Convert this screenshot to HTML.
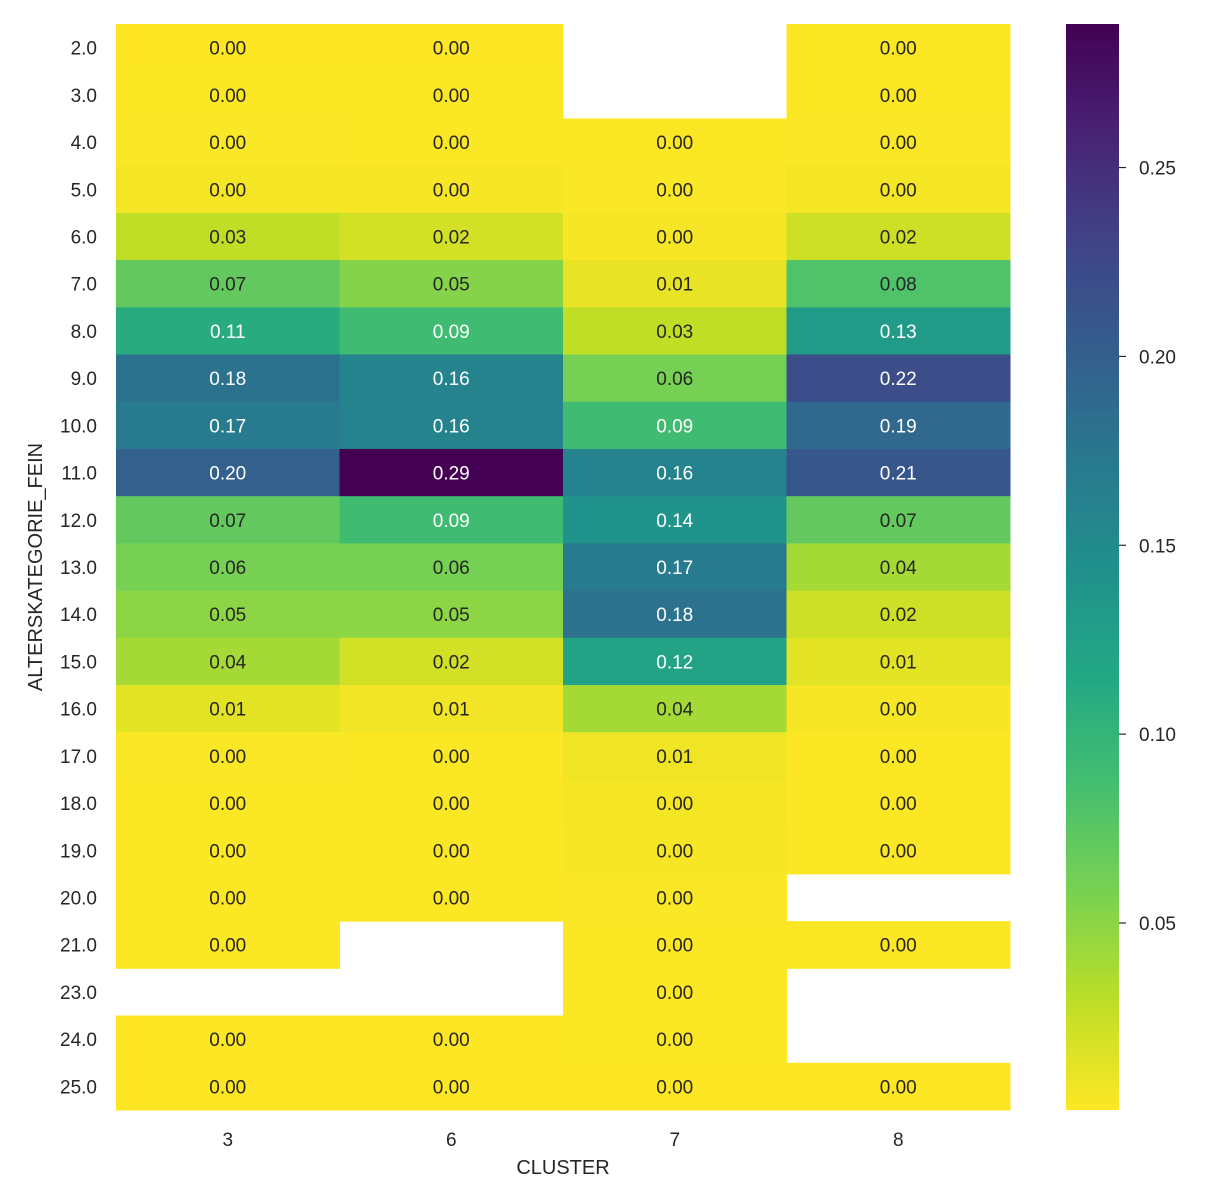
<!DOCTYPE html>
<html><head><meta charset="utf-8"><style>
html,body{margin:0;padding:0;background:#fff;}
svg{display:block;font-family:"Liberation Sans","DejaVu Sans",sans-serif;}
</style></head><body>
<svg id="chart" width="1208" height="1200" viewBox="0 0 1208 1200" xmlns="http://www.w3.org/2000/svg"></svg>
<script>
const categories = ["3","6","7","8"];
const rowLabels = ["2.0","3.0","4.0","5.0","6.0","7.0","8.0","9.0","10.0","11.0","12.0","13.0","14.0","15.0","16.0","17.0","18.0","19.0","20.0","21.0","23.0","24.0","25.0"];
const cluster3 = [0.0005,0.001,0.002,0.004,0.028,0.070,0.110,0.180,0.170,0.200,0.070,0.060,0.050,0.040,0.012,0.002,0.001,0.001,0.001,0.001,null,0.0005,0.0005];
const cluster6 = [0.0005,0.001,0.001,0.003,0.020,0.053,0.090,0.160,0.160,0.288,0.090,0.060,0.050,0.020,0.006,0.001,0.001,0.001,0.001,null,null,0.0005,0.0005];
const cluster7 = [null,null,0.001,0.002,0.003,0.010,0.028,0.060,0.090,0.160,0.140,0.170,0.180,0.120,0.040,0.007,0.004,0.003,0.002,0.001,0.001,0.001,0.0005];
const cluster8 = [0.001,0.001,0.002,0.004,0.022,0.080,0.130,0.220,0.190,0.210,0.070,0.040,0.022,0.012,0.003,0.001,0.001,0.001,null,0.001,null,null,0.0005];
const cbTicks = [0.05,0.10,0.15,0.20,0.25];
const series = [cluster3,cluster6,cluster7,cluster8];
const vmin = 0.0005, vmax = 0.288;

const svg = document.getElementById('chart');
const NS = "http://www.w3.org/2000/svg";
const X0=116, X1=1010, Y0=24, Y1=1110;
const cw=(X1-X0)/categories.length, rh=(Y1-Y0)/rowLabels.length;
const xScale=i=>X0+i*cw, yScale=j=>Y0+j*rh;
const CBX=1066, CBW=53;
const cbY=v=>Y1-(v-vmin)/(vmax-vmin)*(Y1-Y0);

const vir=[[68,1,84],[72,35,116],[64,67,135],[52,94,141],[41,120,142],[32,144,140],[34,167,132],[68,190,112],[121,209,81],[189,222,38],[253,231,37]];
function viridis(t){t=Math.max(0,Math.min(1,t));const p=t*(vir.length-1),i=Math.min(Math.floor(p),vir.length-2),f=p-i;
 return vir[i].map((c,k)=>Math.round(c+(vir[i+1][k]-c)*f));}
function colorFor(v){return viridis(1-(v-vmin)/(vmax-vmin));}
function lum(c){const l=c.map(x=>{x/=255;return x<=0.03928?x/12.92:Math.pow((x+0.055)/1.055,2.4)});return 0.2126*l[0]+0.7152*l[1]+0.0722*l[2];}
function mk(tag,attrs,text){const e=document.createElementNS(NS,tag);for(const k in attrs)e.setAttribute(k,attrs[k]);if(text!==undefined)e.textContent=text;svg.appendChild(e);return e;}

series.forEach((s,i)=>{s.forEach((v,j)=>{
  if(v===null)return;
  const c=colorFor(v);
  const r=mk('rect',{x:xScale(i),y:yScale(j),width:cw+0.5,height:rh+0.5,fill:`rgb(${c})`});
  
  
  const t=mk('text',{x:xScale(i)+cw/2,y:yScale(j)+rh/2+7,'text-anchor':'middle','font-size':'19',fill:lum(c)<0.408?'#fff':'#262626'},v.toFixed(2));
  
  
});});

categories.forEach((c,i)=>{
  const t=mk('text',{x:xScale(i)+cw/2,y:1146,'text-anchor':'middle','font-size':'19',fill:'#262626'},c);
  
  
});
rowLabels.forEach((l,j)=>{
  const t=mk('text',{x:97,y:yScale(j)+rh/2+7,'text-anchor':'end','font-size':'19',fill:'#262626'},l);
  
  
});
const xt=mk('text',{x:563,y:1174,'text-anchor':'middle','font-size':'20',fill:'#262626'},'CLUSTER');


const yt=mk('text',{x:0,y:0,'text-anchor':'middle','font-size':'20',fill:'#262626',transform:'translate(42,567) rotate(-90)'},'ALTERSKATEGORIE_FEIN');



const defs=document.createElementNS(NS,'defs');svg.appendChild(defs);
const g=document.createElementNS(NS,'linearGradient');g.setAttribute('id','cbg');g.setAttribute('x1','0');g.setAttribute('y1','1');g.setAttribute('x2','0');g.setAttribute('y2','0');defs.appendChild(g);
for(let k=0;k<=20;k++){const st=document.createElementNS(NS,'stop');st.setAttribute('offset',k/20);st.setAttribute('stop-color',`rgb(${viridis(1-k/20)})`);g.appendChild(st);}
const cb=mk('rect',{x:CBX,y:Y0,width:CBW,height:Y1-Y0,fill:'url(#cbg)'});


cbTicks.forEach(v=>{
  const y=cbY(v);
  const l=mk('line',{x1:CBX+CBW,x2:CBX+CBW+7,y1:y,y2:y,stroke:'#262626','stroke-width':1.2});
  
  
  const t=mk('text',{x:1139,y:y+7,'font-size':'19',fill:'#262626'},v.toFixed(2));
  
  
});
</script>
</body></html>
